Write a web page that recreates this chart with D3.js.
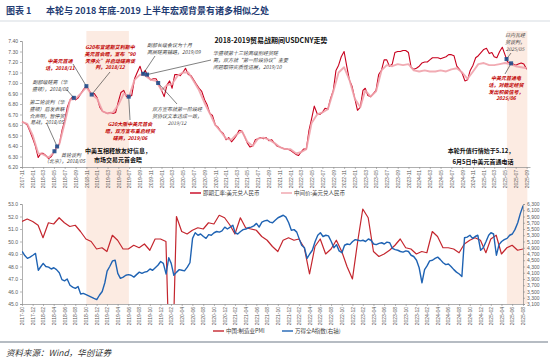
<!DOCTYPE html>
<html><head><meta charset="utf-8">
<script src="https://cdn.jsdelivr.net/npm/d3@7"></script>
<style>
body{margin:0;background:#fff;}
svg{display:block;font-family:"Noto Sans CJK SC","Noto Sans",sans-serif;}
</style></head><body>
<svg id="c" width="550" height="359"></svg>
<script>
// ---------------- DATA ----------------
// USDCNY spot, semi-monthly (1st & 16th) starting 2017-11-01
const spotStart = [2017, 10];
const usdcnySpot = [
6.63,6.62, 6.60,6.54,
6.47,6.40, 6.29,6.33, 6.33,6.31, 6.28,6.30, 6.34,6.39, 6.42,6.55, 6.64,6.77, 6.84,6.87, 6.84,6.86, 6.90,6.94, 6.97,6.93, 6.89,6.90,
6.86,6.77, 6.73,6.72, 6.71,6.72, 6.71,6.72, 6.82,6.91, 6.93,6.87, 6.87,6.88, 7.04,7.10, 7.16,7.08, 7.12,7.06, 7.03,7.04, 7.04,6.99,
6.93,6.87, 6.98,7.02, 6.95,7.08, 7.08,7.07, 7.10,7.14, 7.08,7.07, 7.03,6.99, 6.95,6.92, 6.84,6.79, 6.71,6.69, 6.60,6.58, 6.54,6.52,
6.46,6.48, 6.44,6.47, 6.50,6.55, 6.54,6.49, 6.43,6.39, 6.40,6.46, 6.47,6.48, 6.47,6.48, 6.45,6.46, 6.43,6.40, 6.39,6.38, 6.37,6.37,
6.36,6.34, 6.32,6.31, 6.34,6.37, 6.37,6.55, 6.66,6.78, 6.71,6.70, 6.72,6.76, 6.75,6.85, 6.93,7.12, 7.17,7.25, 7.30,7.16, 7.03,6.97,
6.85,6.74, 6.77,6.93, 6.95,6.88, 6.87,6.90, 6.93,7.08, 7.12,7.22, 7.22,7.16, 7.18,7.29, 7.30,7.30, 7.31,7.31, 7.29,7.15, 7.13,7.14,
7.16,7.19, 7.20,7.20, 7.22,7.24, 7.24,7.24, 7.23,7.24, 7.25,7.27, 7.27,7.26, 7.16,7.13, 7.09,7.02, 7.03,7.12, 7.17,7.24, 7.26,7.29,
7.32,7.33, 7.28,7.29, 7.25,7.24, 7.30,7.34, 7.27,7.20, 7.19,7.18, 7.17,7.18, 7.19,7.18, 7.13
];
// USDCNY central parity, monthly (1st) starting 2017-11-01
const parityStart = [2017, 10];
const usdcnyParity = [
6.63,6.61,
6.50,6.33,6.32,6.29,6.34,6.42,6.62,6.84,6.85,6.90,6.96,6.89,
6.85,6.73,6.71,6.72,6.79,6.90,6.87,7.03,7.08,7.07,7.03,7.02,
6.93,6.98,6.99,7.07,7.10,7.10,7.02,6.93,6.81,6.71,6.60,6.54,
6.47,6.46,6.51,6.54,6.44,6.40,6.47,6.48,6.46,6.43,6.39,6.37,
6.37,6.33,6.34,6.37,6.62,6.70,6.72,6.75,6.92,7.10,7.15,7.03,
6.85,6.77,6.93,6.87,6.92,7.12,7.17,7.16,7.18,7.17,7.18,7.12,
7.11,7.12,7.11,7.11,7.12,7.11,7.13,7.14,7.10,7.04,7.11,7.18,
7.19,7.17,7.17,7.18,7.19,7.18,7.16,7.15,7.14
];
// China manufacturing PMI, monthly starting 2017-10
const pmiStart = [2017, 9];
const chinaPMI = [
51.6,51.8,51.6,
51.3,50.3,51.5,51.4,51.9,51.5,51.2,51.3,50.8,50.2,50.0,49.4,
49.5,49.2,50.5,50.1,49.4,49.4,49.7,49.5,49.8,49.3,50.2,50.2,
50.0,35.7,52.0,50.8,50.6,50.9,51.1,51.0,51.5,51.4,52.1,51.9,
51.3,50.6,51.9,51.1,51.0,50.9,50.4,50.1,49.6,49.2,50.1,50.3,
50.1,50.2,49.5,47.4,49.6,50.2,49.0,49.4,50.1,49.2,48.0,47.0,
50.1,52.6,51.9,49.2,48.8,49.0,49.3,49.7,50.2,49.5,49.4,49.0,
49.2,49.1,50.8,50.4,49.5,49.5,49.4,49.1,49.8,50.1,50.3,50.1,
49.1,50.2,50.5,49.0,49.5,49.7,49.3,49.4
];
// Wind All A index, semi-monthly starting 2017-11-01
const windStart = [2017, 10];
const windAllA = [
4780,4650, 4560,4600,
4660,4720, 4180,4300, 4400,4300, 4280,4220, 4260,4200, 4100,3880, 3840,3900, 3700,3640, 3600,3660, 3420,3440, 3400,3360, 3320,3280,
3240,3380, 3500,3780, 4150,4300, 4480,4500, 4080,3920, 3960,4020, 4040,4020, 3960,4040, 4120,4080, 4120,4140, 4220,4180, 4260,4340,
4460,4400, 4060,4580, 4400,4020, 4120,4200, 4180,4160, 4280,4420, 5200,5380, 5300,5340, 5260,5200, 5320,5300, 5380,5420, 5400,5440,
5560,5500, 5560,5620, 5380,5340, 5420,5480, 5500,5540, 5560,5600, 5680,5560, 5720,5760, 5780,5720, 5700,5780, 5860,5900, 5940,5880,
5700,5460, 5480,5400, 5200,4980, 4900,4560, 4700,4820, 5100,5300, 5380,5260, 5300,5280, 5100,4900, 5000,4800, 4740,4980, 5020,5000,
5100,5160, 5140,5120, 5140,5100, 5180,5140, 5020,5000, 5040,5060, 5020,5080, 5060,4880, 4840,4820, 4780,4760, 4800,4780, 4660,4620,
4500,4260, 3780,4200, 4320,4480, 4500,4560, 4600,4520, 4420,4360, 4380,4300, 4200,4120, 4060,3980, 5220,5240, 5300,5200, 5260,5300,
4820,4900, 5100,5300, 5380,5340, 4660,5000, 5100,5160, 5200,5300, 5340,5480, 5700,6000, 6250
];
const topYTicks = [6.2,6.3,6.4,6.5,6.6,6.7,6.8,6.9,7.0,7.1,7.2,7.3,7.4];
const botLTicks = [45,46,47,48,49,50,51,52,53];
const botRTicks = [3100,3300,3500,3700,3900,4100,4300,4500,4700,4900,5100,5300,5500,5700,5900,6100,6300];
const shadeSpans = [["2018-11-01","2019-06-30"],["2025-05-12","2025-09-05"]];
const events = [
  {date:"2018-05-04", lines:["首轮谈判","（北京），2018/05"], kind:"gray"},
  {date:"2018-05-19", lines:["第二轮谈判（华","盛顿）后发表联","合声明，暂停贸","易战，2018/05"], kind:"gray"},
  {date:"2018-08-22", lines:["副部级磋商（华","盛顿），2018/08"], kind:"gray"},
  {date:"2018-11-01", lines:["中美元首通","话，2018/11"], kind:"red"},
  {date:"2018-12-01", lines:["G20布宜诺斯艾利斯中","美元首会晤，宣布“90","天停火”并启动磋商谈","判，2018/12"], kind:"red"},
  {date:"2019-06-29", lines:["G20大阪中美元首会","晤，双方宣布重启经贸","磋商，2019/06"], kind:"red"},
  {date:"2019-09-19", lines:["副部长级会议为十月","高层磋商铺路，2019/09"], kind:"gray"},
  {date:"2019-10-11", lines:["华盛顿第十三轮高级别经贸磋","商，双方就“第一阶段协议”主要","问题取得实质性进展，2019/10"], kind:"gray"},
  {date:"2019-12-13", lines:["双方宣布就第一阶段经","贸协议文本达成一致，","2019/12"], kind:"gray"},
  {date:"2025-05-10", lines:["日内瓦经","贸谈判，","2025/05"], kind:"gray"},
  {date:"2025-06-05", lines:["中美元首通电","话，对稳定经贸","发出积极信号，","2025/06"], kind:"red"}
];

// ---------------- LAYOUT ----------------
const evLayout = [
  {tx:61, ty:157, anchor:"start", lx:null, extra:{x:44,y:163}},
  {tx:47, ty:104, anchor:"middle", lx:47, ly:124},
  {tx:50, ty:84, anchor:"middle", lx:67, ly:90},
  {tx:60, ty:63, anchor:"middle", lx:73, ly:64},
  {tx:110, ty:49, anchor:"middle", lx:110, ly:72},
  {tx:130, ty:126, anchor:"middle", lx:130, ly:120},
  {tx:147, ty:47, anchor:"start", lx:155, ly:56},
  {tx:213, ty:55, anchor:"start", lx:211, ly:60},
  {tx:177, ty:111, anchor:"middle", lx:177, ly:104},
  {tx:515, ty:37, anchor:"middle", lx:511, ly:53},
  {tx:506, ty:80, anchor:"middle", lx:505, ly:74}
];

const parse = d3.timeParse("%Y-%m-%d");
const semi = (s,i)=> new Date(s[0], s[1]+Math.floor(i/2), i%2?16:1);
const spot = usdcnySpot.map((v,i)=>({d:semi(spotStart,i), v}));
const parity = usdcnyParity.map((v,i)=>({d:new Date(parityStart[0], parityStart[1]+i, 1), v}));
const pmi = chinaPMI.map((v,i)=>({d:d3.timeDay.offset(new Date(pmiStart[0], pmiStart[1]+i+1, 1), -1), v}));
const wind = windAllA.map((v,i)=>({d:semi(windStart,i), v}));

const svg = d3.select("#c");
const C = {spot:"#c8001e", parity:"#f0a2ab", pmi:"#c4262e", wind:"#1f63b3", shade:"#fcebe2", axis:"#8c8c8c", lab:"#595959"};

// scales
const xT = d3.scaleTime().domain([new Date(2017,10,1), new Date(2025,8,20)]).range([22,530]);
const yT = d3.scaleLinear().domain([6.2,7.4]).range([167,41]);
const xB = d3.scaleTime().domain([new Date(2017,9,31), new Date(2025,7,31)]).range([22,523]);
const yL = d3.scaleLinear().domain([45,53]).range([304,204]);
const yR = d3.scaleLinear().domain([3100,6300]).range([304,204]);

// title
svg.append("text").attr("x",6).attr("y",14).attr("font-size",9).attr("font-weight","bold").attr("fill","#1f3c73").text("图表 1");
svg.append("text").attr("x",46).attr("y",14).attr("font-size",9).attr("font-weight","bold").attr("fill","#1f3c73")
  .text("本轮与 2018 年底-2019 上半年宏观背景有诸多相似之处");
svg.append("line").attr("x1",0).attr("x2",550).attr("y1",21).attr("y2",21).attr("stroke","#b8c2cf").attr("stroke-width",0.6);

// shading bands
svg.selectAll("rect.shade").data(shadeSpans).join("rect").attr("class","shade")
  .attr("x",d=>xT(parse(d[0]))).attr("width",d=>xT(parse(d[1]))-xT(parse(d[0])))
  .attr("y",31).attr("height",273).attr("fill",C.shade);

function styleAxis(g){
  g.select(".domain").attr("stroke",C.axis).attr("stroke-width",0.7);
  g.selectAll(".tick line").attr("stroke",C.axis).attr("stroke-width",0.6);
  g.selectAll(".tick text").attr("fill",C.lab).attr("font-size",5).attr("font-family","Liberation Sans, Arial, sans-serif");
}
// ---------- TOP CHART ----------
const gYT = svg.append("g").attr("transform","translate(22,0)")
  .call(d3.axisLeft(yT).tickValues(topYTicks).tickFormat(d3.format(".2f")).tickSize(2).tickPadding(2));
styleAxis(gYT);
const topXTicks = d3.timeMonth.range(new Date(2017,10,1), new Date(2025,9,2), 2);
const gXT = svg.append("g").attr("transform","translate(0,167)")
  .call(d3.axisBottom(xT).tickValues(topXTicks).tickFormat(d3.timeFormat("%Y-%m")).tickSize(2).tickSizeOuter(0));
styleAxis(gXT);
gXT.selectAll(".tick text").attr("transform","rotate(-90)").attr("text-anchor","end").attr("x",-3).attr("y",0).attr("dy","0.35em");

const lineT = d3.line().x(d=>xT(d.d)).y(d=>yT(d.v));
svg.append("path").datum(spot).attr("d",lineT).attr("fill","none").attr("stroke",C.spot).attr("stroke-width",1.1).attr("stroke-linejoin","round");
svg.append("path").datum(parity).attr("d",lineT).attr("fill","none").attr("stroke",C.parity).attr("stroke-width",1.9).attr("stroke-opacity",0.9).attr("stroke-linejoin","round");

// events
const bis = d3.bisector(d=>d.d).left;
function spotAt(date){
  const i = bis(spot, date);
  if(i<=0) return spot[0].v;
  if(i>=spot.length) return spot[spot.length-1].v;
  const a=spot[i-1], b=spot[i], t=(date-a.d)/(b.d-a.d);
  return a.v+(b.v-a.v)*t;
}
events.forEach((e,k)=>{
  const L = evLayout[k];
  const dt = parse(e.date);
  const mx = xT(dt), my = yT(spotAt(dt));
  if(L.lx!=null){
    svg.append("line").attr("x1",L.lx).attr("y1",L.ly).attr("x2",mx).attr("y2",my)
      .attr("stroke","#2b2b2b").attr("stroke-width",0.6);
  }
  const col = e.kind==="red"?"#c00000":"#3f3f3f";
  e.lines.forEach((s,j)=>{
    let x=L.tx, y=L.ty+j*6.8;
    if(L.extra && j===1){x=L.extra.x; y=L.extra.y;}
    svg.append("text").attr("x",x).attr("y",y).attr("text-anchor",L.anchor)
      .attr("font-size",5).attr("font-style","italic").attr("font-weight",e.kind==="red"?"bold":"normal")
      .attr("fill",col).text(s);
  });
  svg.append("rect").attr("x",mx-2).attr("y",my-2).attr("width",4).attr("height",4).attr("fill","#1f4e8c").attr("fill-opacity",0.9);
});

// headings in top chart
svg.append("text").attr("x",271).attr("y",42.5).attr("text-anchor","middle").attr("font-size",7).attr("font-weight","bold").attr("fill","#111")
  .text("2018-2019贸易战期间USDCNY走势");
svg.append("text").attr("x",118).attr("y",153).attr("text-anchor","middle").attr("font-size",6).attr("font-weight","bold").attr("fill","#111").text("中美互相释放友好信息，");
svg.append("text").attr("x",118).attr("y",162).attr("text-anchor","middle").attr("font-size",6).attr("font-weight","bold").attr("fill","#111").text("市场交易元首会晤");
svg.append("text").attr("x",481).attr("y",153).attr("text-anchor","middle").attr("font-size",6).attr("font-weight","bold").attr("fill","#111").text("本轮升值行情始于5.12，");
svg.append("text").attr("x",483).attr("y",164).attr("text-anchor","middle").attr("font-size",6).attr("font-weight","bold").attr("fill","#111").text("6月5日中美元首通电话");

// top legend
function legendItem(x,y,color,label,w){
  svg.append("line").attr("x1",x).attr("x2",x+11).attr("y1",y).attr("y2",y).attr("stroke",color).attr("stroke-width",w);
  svg.append("text").attr("x",x+13).attr("y",y+2).attr("font-size",5.5).attr("fill","#404040").text(label);
}
legendItem(190,193,C.spot,"即期汇率:美元兑人民币",1.4);
legendItem(281,193,C.parity,"中间价:美元兑人民币",1.4);

// ---------- BOTTOM CHART ----------
const gYL = svg.append("g").attr("transform","translate(22,0)")
  .call(d3.axisLeft(yL).tickValues(botLTicks).tickFormat(d3.format(".1f")).tickSize(2).tickPadding(2));
styleAxis(gYL);
const gYR = svg.append("g").attr("transform","translate(523,0)")
  .call(d3.axisRight(yR).tickValues(botRTicks).tickFormat(d3.format(",")).tickSize(2).tickPadding(2));
styleAxis(gYR);
const botXTicks = d3.timeMonth.range(new Date(2017,10,1), new Date(2025,9,1), 2).map(d=>d3.timeDay.offset(d,-1));
const gXB = svg.append("g").attr("transform","translate(0,304)")
  .call(d3.axisBottom(xB).tickValues(botXTicks).tickFormat(d3.timeFormat("%Y-%m")).tickSize(2).tickSizeOuter(0));
styleAxis(gXB);
gXB.selectAll(".tick text").attr("transform","rotate(-90)").attr("text-anchor","end").attr("x",-3).attr("y",0).attr("dy","0.35em");

svg.append("clipPath").attr("id","clipB").append("rect").attr("x",22).attr("y",196).attr("width",501).attr("height",108);
svg.append("path").datum(pmi).attr("clip-path","url(#clipB)")
  .attr("d",d3.line().x(d=>xB(d.d)).y(d=>yL(d.v)))
  .attr("fill","none").attr("stroke",C.pmi).attr("stroke-width",1.2).attr("stroke-linejoin","round");
svg.append("path").datum(wind).attr("clip-path","url(#clipB)")
  .attr("d",d3.line().x(d=>xB(d.d)).y(d=>yR(d.v)))
  .attr("fill","none").attr("stroke",C.wind).attr("stroke-width",1.4).attr("stroke-linejoin","round");

legendItem(213,331,C.pmi,"中国:制造业PMI",1.4);
legendItem(282,331,C.wind,"万得全A指数(右轴)",1.4);

// footer
svg.append("line").attr("x1",0).attr("x2",548).attr("y1",342).attr("y2",342).attr("stroke","#6e7b88").attr("stroke-width",1.2);
svg.append("text").attr("x",6).attr("y",356).attr("font-size",8.5).attr("font-style","italic").attr("fill","#333")
  .text("资料来源：Wind，华创证券");
</script>
</body></html>
